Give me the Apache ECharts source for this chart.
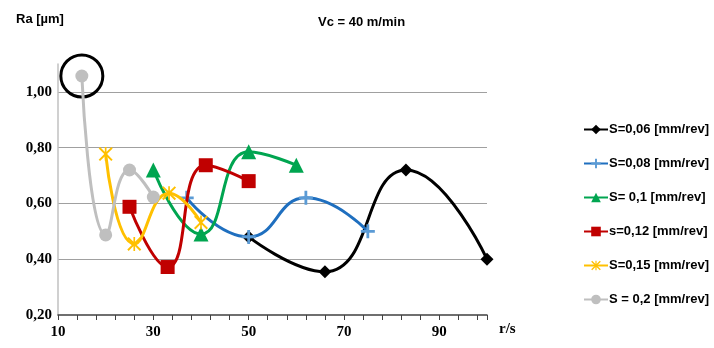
<!DOCTYPE html>
<html>
<head>
<meta charset="utf-8">
<script src="https://cdn.jsdelivr.net/npm/echarts@6/dist/echarts.min.js"></script>
<style>
html,body{margin:0;padding:0;background:#fff;}
#main{width:714px;height:348px;}
</style>
</head>
<body>
<div id="main"></div>
<script>
// Ra vs r/s, one curve per feed S
var names=['S=0,06 [mm/rev]','S=0,08 [mm/rev]','S= 0,1 [mm/rev]','s=0,12 [mm/rev]','S=0,15 [mm/rev]','S = 0,2 [mm/rev]'];
var s006=[[50,0.48],[66,0.355],[83,0.72],[100,0.40]];
var s008=[[37,0.62],[50,0.48],[62,0.62],[75,0.50]];
var s010=[[30,0.72],[40,0.49],[50,0.785],[60,0.737]];
var s012=[[25,0.588],[33,0.372],[41,0.737],[50,0.68]];
var s015=[[20,0.777],[26,0.455],[33.3,0.637],[40,0.532]];
var s020=[[15,1.057],[20,0.487],[25,0.72],[30,0.623]];
var yTicks=[0.2,0.4,0.6,0.8,1.0];

var lineCol=['#000000','#1f6fbf','#00a550','#c00000','#ffc000','#bfbfbf'];
var markCol=['#000000','#5b9bd5','#00a550','#c00000','#ffc000','#bfbfbf'];
var plusPath='path://M4,0h2v4h4v2h-4v4h-2v-4h-4v-2h4z';
var starPath='path://M1,0L5,4L9,0L10,1L6,5L10,9L9,10L5,6L1,10L0,9L4,5L0,1Z M4.4,0h1.2v10h-1.2z';
var symbols=['diamond',plusPath,'triangle','rect',starPath,'circle'];
var sizes=[13,14,15,14,14,13];
var datas=[s006,s008,s010,s012,s015,s020];

var myChart=echarts.init(document.getElementById('main'));
var series=[];
for(var i=0;i<datas.length;i++){
	var s={
		name:names[i],
		type:'line',
		data:datas[i],
		smooth:0.5,
		symbol:symbols[i],
		symbolSize:sizes[i],
		showAllSymbol:true,
		lineStyle:{color:lineCol[i],width:3},
		itemStyle:{color:markCol[i],borderWidth:0},
		z:2+i
	};
	series.push(s);
}
// circle drawn round the first point of the S=0,2 curve
series[5].markPoint={
	symbol:'circle',
	symbolSize:42,
	silent:true,
	label:{show:false},
	itemStyle:{color:'rgba(0,0,0,0)',borderColor:'#000',borderWidth:3},
	data:[{coord:s020[0]}]
};

var option={
	backgroundColor:'#fff',
	animation:false,
	title:[
		{text:'Vc = 40 m/min',left:313,top:11,textStyle:{fontFamily:'Liberation Sans',fontSize:13,fontWeight:'bold',color:'#000'}},
		{text:'Ra [µm]',left:11,top:8,textStyle:{fontFamily:'Liberation Sans',fontSize:13,fontWeight:'bold',color:'#000'}}
	],
	legend:{
		orient:'vertical',
		left:578,
		top:118,
		itemWidth:24,
		itemHeight:12,
		itemGap:21,
		data:names,
		textStyle:{fontFamily:'Liberation Sans',fontSize:13,fontWeight:'bold',color:'#000',padding:[0,0,0,-4]}
	},
	grid:{left:58,right:227,top:64,bottom:33},
	xAxis:{
		type:'value',
		min:10,max:100,interval:20,
		name:'r/s',
		nameLocation:'end',
		nameGap:12,
		nameTextStyle:{fontFamily:'Liberation Serif',fontSize:15,fontWeight:'bold',color:'#000',verticalAlign:'top',padding:[7,0,0,0]},
		axisLine:{lineStyle:{color:'#404040',width:1.5}},
		axisTick:{show:true,length:5,inside:false,lineStyle:{color:'#404040'}},
		minorTick:{show:true,splitNumber:5,length:5,lineStyle:{color:'#404040'}},
		splitLine:{show:false},
		axisLabel:{showMaxLabel:false,margin:10,fontFamily:'Liberation Serif',fontSize:15,fontWeight:'bold',color:'#000'}
	},
	yAxis:{
		type:'value',
		min:0.2,max:1.1,interval:0.2,
		axisLine:{show:true,lineStyle:{color:'#c0c0c0',width:1.5}},
		axisTick:{show:false},
		splitLine:{show:true,showMinLine:false,showMaxLine:false,lineStyle:{color:'#a0a0a0',width:1}},
		axisLabel:{showMaxLabel:false,margin:6,fontFamily:'Liberation Serif',fontSize:15,fontWeight:'bold',color:'#000',
			formatter:function(v){
				for(var k=0;k<yTicks.length;k++){ if(Math.abs(v-yTicks[k])<1e-6) return v.toFixed(2).replace('.',','); }
				return '';
			}}
	},
	series:series
};
myChart.setOption(option);
</script>
</body>
</html>
